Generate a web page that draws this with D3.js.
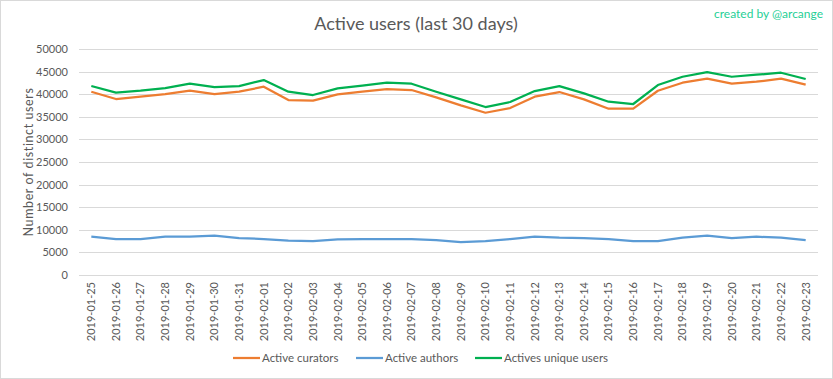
<!DOCTYPE html>
<html>
<head>
<meta charset="utf-8">
<script src="https://cdn.jsdelivr.net/npm/d3@7"></script>
<style>
  body { margin: 0; background: #fff; }
  text { font-family: Lato, "Liberation Sans", sans-serif; }
</style>
</head>
<body>
<div id="caja"></div>
<script>
// datos
var fechas = ["2019-01-25","2019-01-26","2019-01-27","2019-01-28","2019-01-29","2019-01-30","2019-01-31",
  "2019-02-01","2019-02-02","2019-02-03","2019-02-04","2019-02-05","2019-02-06","2019-02-07","2019-02-08",
  "2019-02-09","2019-02-10","2019-02-11","2019-02-12","2019-02-13","2019-02-14","2019-02-15","2019-02-16",
  "2019-02-17","2019-02-18","2019-02-19","2019-02-20","2019-02-21","2019-02-22","2019-02-23"];

var curadores = [40550, 38930, 39450, 40040, 40770, 40040, 40550, 41660, 38710, 38560,
  39960, 40550, 41140, 40920, 39300, 37530, 35900, 36940, 39450, 40480,
  38860, 36790, 36790, 40770, 42540, 43430, 42320, 42760, 43430, 42100];

var autores = [8470, 7960, 7960, 8470, 8470, 8700, 8180, 7960, 7590, 7520,
  7890, 7960, 7960, 7960, 7740, 7300, 7520, 7960, 8470, 8250,
  8180, 7960, 7520, 7520, 8250, 8700, 8180, 8470, 8250, 7740];

var unicos = [41810, 40330, 40770, 41360, 42320, 41590, 41800, 43130, 40550, 39820,
  41290, 41880, 42540, 42320, 40550, 38860, 37160, 38270, 40700, 41800,
  40180, 38340, 37830, 42030, 43860, 44900, 43860, 44310, 44750, 43360];

var ticksY = [0, 5000, 10000, 15000, 20000, 25000, 30000, 35000, 40000, 45000, 50000];

var series = [
  {nombre: "Active curators", valores: curadores, color: "#ED7D31"},
  {nombre: "Active authors", valores: autores, color: "#5B9BD5"},
  {nombre: "Actives unique users", valores: unicos, color: "#00B050"}
];

var w = 833, h = 379;
var izq = 79, der = 818, arriba = 49, abajo = 275;

var chart = d3.select('#caja')
  .append('svg')
  .attr('width', w)
  .attr('height', h);

// borde
chart.append("rect")
  .attr("x", 0.5).attr("y", 0.5)
  .attr("width", w - 1).attr("height", h - 1)
  .attr("fill", "#fff")
  .attr("stroke", "#d9d9d9");

var x = d3.scaleBand().domain(fechas).range([izq, der]);
var y = d3.scaleLinear().domain([0, 50000]).range([abajo, arriba]);

// lineas de grilla
chart.append("g")
  .selectAll("line")
  .data(ticksY)
  .enter().append("line")
  .attr("x1", izq).attr("x2", der)
  .attr("y1", function(d) { return Math.round(y(d)) + 0.5; })
  .attr("y2", function(d) { return Math.round(y(d)) + 0.5; })
  .attr("stroke", "#d9d9d9");

// eje y
var ejeY = chart.append("g")
  .attr("transform", "translate(" + (izq - 11) + ",0)")
  .call(d3.axisLeft(y).tickValues(ticksY).tickSize(0).tickPadding(0).tickFormat(d3.format("d")));
ejeY.select(".domain").remove();
ejeY.selectAll("text")
  .attr("fill", "#595959")
  .attr("font-size", "11px")
  .style("font-family", "Lato, sans-serif");

// eje x
var ejeX = chart.append("g")
  .attr("transform", "translate(0," + abajo + ")")
  .call(d3.axisBottom(x).tickSize(0).tickPadding(0));
ejeX.select(".domain").remove();
ejeX.selectAll("text")
  .attr("fill", "#595959")
  .attr("font-size", "11px")
  .style("font-family", "Lato, sans-serif")
  .attr("text-anchor", "end")
  .attr("dy", "0.35em")
  .attr("transform", "translate(0,7) rotate(-90)")
  .attr("x", 0).attr("y", 0);

// lineas de datos
var linea = d3.line()
  .x(function(d, i) { return x(fechas[i]) + x.bandwidth() / 2; })
  .y(function(d) { return y(d); });

chart.append("g")
  .selectAll("path")
  .data(series)
  .enter().append("path")
  .attr("d", function(s) { return linea(s.valores); })
  .attr("fill", "none")
  .attr("stroke", function(s) { return s.color; })
  .attr("stroke-width", 2.25)
  .attr("stroke-linejoin", "round");

// titulos
chart.append("text")
  .text("Active users (last 30 days)")
  .attr("x", 416).attr("y", 30)
  .attr("text-anchor", "middle")
  .attr("font-size", "18px")
  .attr("fill", "#595959");

chart.append("text")
  .text("created by @arcange")
  .attr("x", 823).attr("y", 18)
  .attr("text-anchor", "end")
  .attr("font-size", "12px")
  .attr("fill", "#1fcf96");

chart.append("text")
  .text("Number of distinct users")
  .attr("transform", "translate(33," + ((arriba + abajo) / 2) + ") rotate(-90)")
  .attr("text-anchor", "middle")
  .attr("font-size", "12.5px")
  .attr("letter-spacing", "0.6px")
  .attr("fill", "#595959");

// leyenda
var posLeyenda = [233, 356, 475];
var leyenda = chart.append("g")
  .selectAll("g")
  .data(series)
  .enter().append("g")
  .attr("transform", function(s, i) { return "translate(" + posLeyenda[i] + ",358)"; });
leyenda.append("line")
  .attr("x1", 0).attr("x2", 27)
  .attr("stroke", function(s) { return s.color; })
  .attr("stroke-width", 2.25);
leyenda.append("text")
  .text(function(s) { return s.nombre; })
  .attr("x", 29).attr("dy", "0.35em")
  .attr("font-size", "11.5px")
  .attr("fill", "#595959");
</script>
</body>
</html>
